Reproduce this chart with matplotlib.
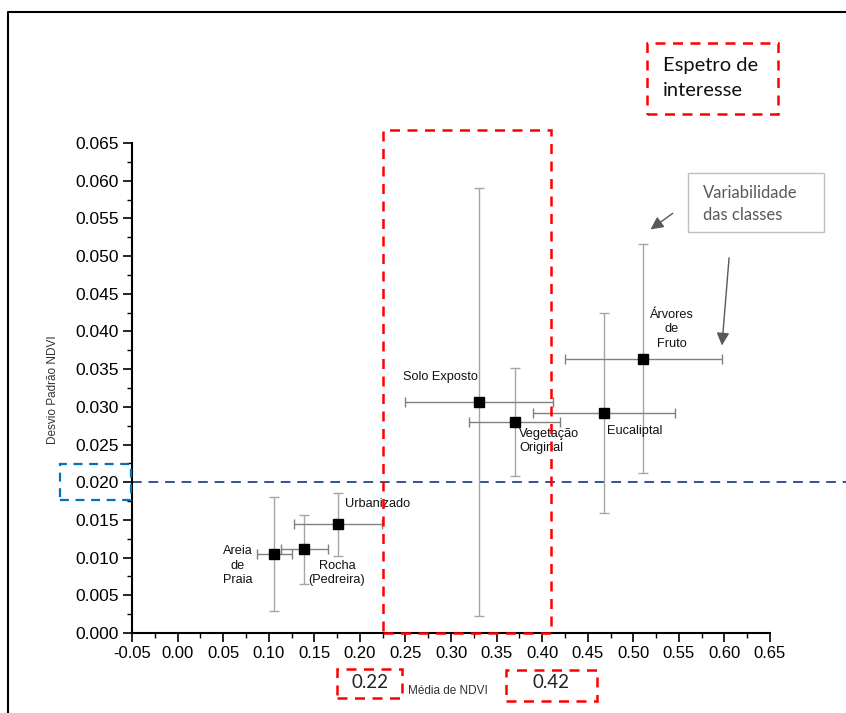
import numpy as np
import matplotlib
matplotlib.use('Agg')
import matplotlib.pyplot as plt
from matplotlib.patches import Rectangle, FancyArrowPatch
from matplotlib.lines import Line2D
from matplotlib.ticker import MultipleLocator

# valores
classes = ['Areia\nde\nPraia', 'Rocha\n(Pedreira)', 'Urbanizado', 'Solo Exposto',
           'Vegetação\nOriginal', 'Eucaliptal', 'Árvores\nde\nFruto']
media_ndvi = [0.106, 0.139, 0.176, 0.331, 0.370, 0.468, 0.511]
desvio_ndvi = [0.0105, 0.0111, 0.0144, 0.0306, 0.0280, 0.0292, 0.0364]
erro_x = [0.019, 0.026, 0.048, 0.081, 0.050, 0.078, 0.086]
erro_y = [0.0076, 0.0046, 0.0042, 0.0284, 0.0072, 0.0133, 0.0152]

limiar_desvio = 0.020
espetro = [0.225, 0.41]
espetro_labels = ['0.22', '0.42']

# deslocamento dos rotulos (pontos) e alinhamento
offsets = [(-26, -8.5), (23.5, -17), (28.5, 14.5), (-28, 18), (3, -14), (22, -13), (20.5, 21)]
aligns = ['center', 'center', 'center', 'center', 'left', 'center', 'center']

W, H = 846, 713
arial = 'Liberation Sans'
calibri = 'Lato'


def fx(px):
    return px / W


def fy(py):
    return 1 - py / H


fig = plt.figure(figsize=(W / 100, H / 100), dpi=100)
ax = fig.add_axes([fx(132), fy(633), fx(770) - fx(132), fy(143) - fy(633)])

ax.errorbar(media_ndvi, desvio_ndvi, yerr=erro_y, fmt='none', ecolor='#a6a6a6',
            elinewidth=1.0, capsize=3.3, capthick=1.0, zorder=2)
ax.errorbar(media_ndvi, desvio_ndvi, xerr=erro_x, fmt='none', ecolor='#808080',
            elinewidth=1.0, capsize=3.3, capthick=1.0, zorder=2)
ax.plot(media_ndvi, desvio_ndvi, 's', color='black', markersize=6.5, zorder=3)

for name, x, y, off, ha in zip(classes, media_ndvi, desvio_ndvi, offsets, aligns):
    ax.annotate(name, (x, y), xytext=off, textcoords='offset points', ha=ha, va='center',
                fontsize=9.2, family=arial, color='#111111', linespacing=1.25,
                multialignment=ha)

ax.set_xlim(-0.05, 0.65)
ax.set_ylim(0, 0.065)
ax.xaxis.set_major_locator(MultipleLocator(0.05))
ax.xaxis.set_minor_locator(MultipleLocator(0.025))
ax.yaxis.set_major_locator(MultipleLocator(0.005))
ax.yaxis.set_minor_locator(MultipleLocator(0.0025))
ax.xaxis.set_major_formatter(lambda v, p: f'{v:.2f}')
ax.yaxis.set_major_formatter(lambda v, p: f'{v:.3f}')
ax.tick_params(which='major', direction='out', length=6.5, width=1.2, pad=3)
ax.tick_params(which='minor', direction='out', length=3.5, width=1.0)
for lab in ax.get_xticklabels():
    lab.set_fontfamily(arial)
    lab.set_fontsize(12)
for lab in ax.get_yticklabels():
    lab.set_fontfamily(arial)
    lab.set_fontsize(12.5)
for s in ['top', 'right']:
    ax.spines[s].set_visible(False)
for s in ['left', 'bottom']:
    ax.spines[s].set_linewidth(1.5)

# linha limiar
ax.axhline(limiar_desvio, xmin=0, xmax=(W - 132) / (770 - 132), color='#2f5597',
           lw=1.4, ls=(0, (5, 3.5)), clip_on=False, zorder=1)

# faixa do espetro de interesse
ax.add_patch(Rectangle((espetro[0], 0), espetro[1] - espetro[0], 0.0667, fill=False,
                       ec='#ff0000', lw=1.8, ls=(0, (4, 3)), clip_on=False, zorder=4))

fig.text(fx(53), fy(390), 'Desvio Padrão NDVI', rotation=90, ha='center', va='center',
         fontsize=8.5, family=arial, color='#333333')
fig.text(fx(448), fy(691), 'Média de NDVI', ha='center', va='center',
         fontsize=8.5, family=arial, color='#333333')


def caixa(x0, y0, x1, y1, color, lw=1.8, ls=(0, (4, 3))):
    fig.add_artist(Rectangle((fx(x0), fy(y1)), fx(x1) - fx(x0), fy(y0) - fy(y1),
                             transform=fig.transFigure, fill=False, ec=color, lw=lw, ls=ls))


caixa(337, 669, 402, 698, '#ff0000')
caixa(506, 670, 597, 701, '#ff0000')
fig.text(fx(370), fy(683), espetro_labels[0], ha='center', va='center',
         fontsize=13.5, family=calibri, color='#222222')
fig.text(fx(551), fy(683), espetro_labels[1], ha='center', va='center',
         fontsize=13.5, family=calibri, color='#222222')

caixa(60, 464, 131, 500, '#0070c0', lw=1.6)

caixa(647, 43, 778, 114, '#ff0000')
fig.text(fx(663), fy(78), 'Espetro de\ninteresse', ha='left', va='center',
         fontsize=14.5, family=calibri, color='#111111', linespacing=1.5)

caixa(688, 173, 824, 232, '#bfbfbf', lw=1.0, ls='-')
fig.text(fx(703), fy(204), 'Variabilidade\ndas classes', ha='left', va='center',
         fontsize=12, family=calibri, color='#595959', linespacing=1.45)

for (x0, y0), (x1, y1) in [((675, 211.7), (648.3, 231)), ((729.3, 255), (721.7, 348.3))]:
    fig.add_artist(FancyArrowPatch((fx(x0), fy(y0)), (fx(x1), fy(y1)),
                                   transform=fig.transFigure, arrowstyle='-|>',
                                   mutation_scale=19, color='#595959', lw=1.0))

# moldura
fig.add_artist(Line2D([fx(8), fx(8), 1], [0, fy(12), fy(12)], transform=fig.transFigure,
                      color='black', lw=1.5))

fig.savefig('out.png', dpi=100)
